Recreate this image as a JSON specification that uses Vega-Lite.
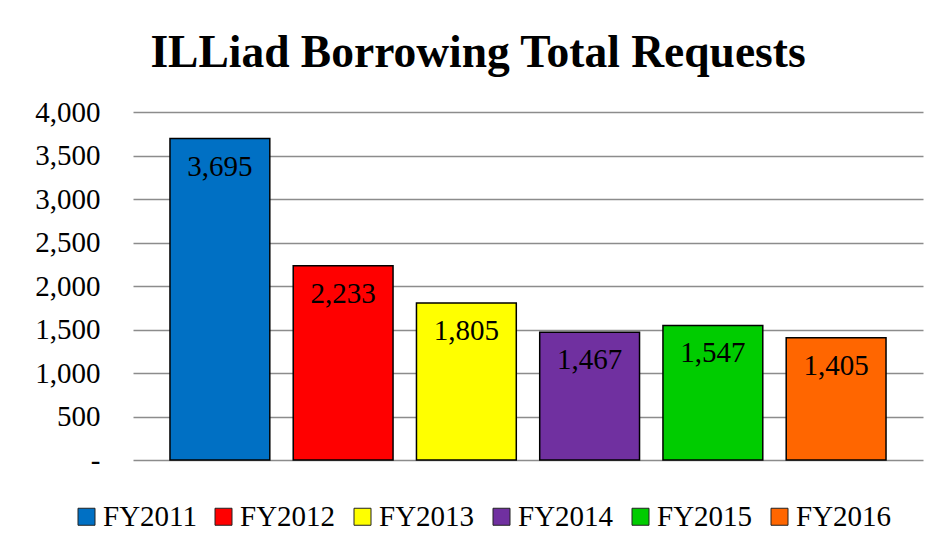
{
  "$schema": "https://vega.github.io/schema/vega-lite/v6.json",
  "width": 790,
  "height": 348,
  "autosize": "none",
  "padding": {"left": 133, "top": 112, "right": 18, "bottom": 93},
  "background": "white",
  "title": {
    "text": "ILLiad Borrowing Total Requests",
    "font": "Liberation Serif",
    "fontSize": 45.5,
    "fontWeight": "bold",
    "color": "black",
    "anchor": "middle",
    "frame": "group",
    "dx": -50,
    "baseline": "alphabetic",
    "offset": -14
  },
  "data": {
    "values": [
      {"year": "FY2011", "requests": 3695},
      {"year": "FY2012", "requests": 2233},
      {"year": "FY2013", "requests": 1805},
      {"year": "FY2014", "requests": 1467},
      {"year": "FY2015", "requests": 1547},
      {"year": "FY2016", "requests": 1405}
    ]
  },
  "encoding": {
    "x": {
      "field": "year",
      "type": "nominal",
      "sort": null,
      "scale": {"paddingInner": 0.19, "paddingOuter": 0.3},
      "axis": null
    },
    "y": {
      "field": "requests",
      "type": "quantitative",
      "scale": {"domain": [0, 4000], "nice": false},
      "axis": {
        "values": [0, 500, 1000, 1500, 2000, 2500, 3000, 3500, 4000],
        "title": null,
        "ticks": false,
        "domain": false,
        "grid": true,
        "gridColor": "#8c8c8c",
        "gridWidth": 1.5,
        "labelFont": "Liberation Serif",
        "labelFontSize": 29,
        "labelColor": "black",
        "labelPadding": 33,
        "labelExpr": "datum.value == 0 ? '-\u00a0\u00a0\u00a0' : datum.label"
      }
    }
  },
  "layer": [
    {
      "mark": {"type": "bar", "stroke": "black", "strokeWidth": 1.5},
      "encoding": {
        "color": {
          "field": "year",
          "type": "nominal",
          "sort": null,
          "scale": {
            "domain": ["FY2011", "FY2012", "FY2013", "FY2014", "FY2015", "FY2016"],
            "range": ["#0070C4", "#FF0000", "#FFFF00", "#7030A0", "#00CC00", "#FF6600"]
          },
          "legend": {
            "title": null,
            "orient": "none",
            "direction": "horizontal",
            "legendX": -61,
            "legendY": 390,
            "symbolType": "square",
            "symbolSize": 289,
            "symbolStrokeColor": "#222222",
            "symbolStrokeWidth": 1,
            "labelFont": "Liberation Serif",
            "labelFontSize": 29,
            "labelColor": "black",
            "labelOffset": 2,
            "columnPadding": 12,
            "labelLimit": 300
          }
        }
      }
    },
    {
      "mark": {
        "type": "text",
        "baseline": "alphabetic",
        "dy": 37,
        "font": "Liberation Serif",
        "fontSize": 29,
        "color": "black"
      },
      "encoding": {
        "text": {"field": "requests", "type": "quantitative", "format": ","}
      }
    }
  ],
  "config": {"view": {"stroke": null}}
}
